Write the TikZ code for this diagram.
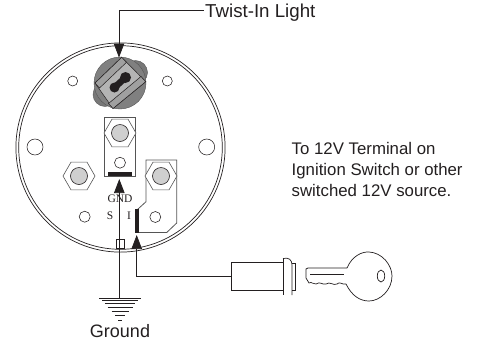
\documentclass[tikz,border=0pt]{standalone}
\usepackage{fontspec}
\setmainfont{Liberation Serif}
\newfontfamily\lab{Liberation Sans}
\usetikzlibrary{arrows.meta,shapes.geometric}
\definecolor{ink}{HTML}{231F20}
\definecolor{bolt}{HTML}{CFCFCF}
\definecolor{mid}{HTML}{808080}
\definecolor{lobe}{HTML}{787878}
\definecolor{plate}{HTML}{B4B4B4}
\definecolor{strip}{HTML}{A0A0A0}
\definecolor{soft}{HTML}{555555}
\tikzset{
 ln/.style={draw=ink,line width=.7pt},
 hole/.style={circle,draw=ink,line width=.55pt,fill=white,minimum size=11pt,inner sep=0pt},
 hexn/.style={regular polygon,regular polygon sides=6,draw=soft,line width=.6pt,fill=white,minimum size=32pt,inner sep=0pt},
 boltc/.style={circle,draw=ink,line width=.6pt,fill=bolt,minimum size=17pt,inner sep=0pt},
 txt/.style={font=\lab\fontsize{18}{20}\selectfont,text=ink,inner sep=0pt},
 ser/.style={font=\fontsize{11.5}{12}\selectfont,text=ink,inner sep=0pt},
 tip/.style={-{Triangle[length=14pt,width=10.5pt]}},
 platel/.style={draw=soft,line width=.8pt},
}
\begin{document}
\begin{tikzpicture}[x=1pt,y=-1pt]
\useasboundingbox (0,0) rectangle (478,341);
\coordinate (cc) at (120.5,147.5);
\draw[ln] (cc) circle (104.6);
\draw[ln] (cc) circle (101.8);
% small holes
\node[hole,minimum size=10pt] (h1) at (72.7,81) {};
\node[hole,minimum size=10pt] (h2) at (167.3,81) {};
\node[hole,minimum size=16pt] (h3) at (35,147) {};
\node[hole,minimum size=16pt] (h4) at (206.7,147) {};
\node[hole] (h5) at (84.7,216.7) {};
% twist-in light
\fill[lobe,draw=soft,line width=.4pt] (135.5,72.5) circle (12);
\fill[lobe,draw=soft,line width=.4pt] (105,94.5) circle (12);
\fill[mid,draw=soft,line width=.4pt] (120,83) circle (26);
\draw[ink,line width=.5pt,fill=plate] (95,83) -- (121.7,57.3) -- (145.7,81.7) -- (113,108.5) -- cycle;
\draw[ink,line width=.5pt,fill=strip] (95,83) -- (121.7,57.3) -- (126.5,62.3) -- (99.5,88) -- cycle;
\draw[ink,line width=.5pt,fill=strip] (108.5,103.5) -- (141,76.5) -- (145.7,81.7) -- (113,108.5) -- cycle;
\fill[ink] (114.5,87.5) circle (5);
\fill[ink] (125.5,77.5) circle (5.5);
\draw[ink,line width=6.5pt] (114.5,87.5) -- (125.5,77.5);
% GND plate
\draw[platel] (104.7,117.3) rectangle (135.3,176);
\node[hexn] (hx1) at (120,133) {};
\node[boltc] (b1) at (hx1) {};
\node[hole] (h6) at (120,162.7) {};
\fill[ink] (108,171.7) rectangle (131.7,176.3);
% left bolt
\node[hexn] (hx2) at (79,176) {};
\node[boltc] (b2) at (hx2) {};
% I plate
\draw[platel] (146,160) -- (176.7,160) -- (176.7,223) -- (166.7,232.5) -- (138,232.5) -- (138,209) -- (146,201.7) -- cycle;
\node[hexn] (hx3) at (161,176) {};
\node[boltc] (b3) at (hx3) {};
\node[hole] (h7) at (155.3,217) {};
\fill[ink] (134.7,209) rectangle (139,232.8);
% connectors
\node[txt,anchor=west,font=\lab\fontsize{18.7}{20}\selectfont] (tl) at (205,13) {Twist-In Light};
\coordinate (tw) at (203.5,10.7);
\draw[ln,tip] (tw) -- (119,10.7) -- (119,57.5);
\node[txt] (gt) at (120,331.5) {Ground};
\coordinate (g0) at (119.3,179);
\coordinate (g1) at (119.3,298);
\draw[ink,line width=.75pt] (g1) -- (119.3,190);
\draw[ink,line width=.75pt,tip] (119.3,194) -- (g0);
\draw[ink,line width=.5pt] (116.7,239) rectangle (124,248);
\foreach \y/\w in {298/20.7,300.5/18,303.5/15,307/12.5,311/8.5,315/5,320/2}
 \draw[ink,line width=.9pt] (120-\w,\y) -- (120+\w,\y);
% labels
\node[ser] (gnd) at (120,199) {GND};
\node[ser] (s) at (110,216) {S};
\node[ser] (i) at (129,216) {I};
% key switch wire
\node[draw=ink,line width=.7pt,minimum width=52pt,minimum height=28pt,inner sep=0pt] (sw) at (257,276) {};
\draw[ln,tip] (sw.west) -- (136.7,276) -- (136.7,235);
\draw[ln] (283,258.5) .. controls (289,257) and (292,260) .. (292,265) -- (292,295);
\draw[ln] (283,258.5) -- (283,295);
\draw[ln] (292,263) -- (295.3,263) -- (295.3,290) -- (292,290);
% key
\draw[ln] (347,268) -- (308,268) -- (306,269) -- (306,278) -- (309,283)
 .. controls (312,281) and (313,285) .. (316,284) .. controls (320,281) and (322,285) .. (326,284)
 .. controls (330,281) and (333,286) .. (337,284) .. controls (340,281) and (342,285) .. (346,284);
\draw[ln] (310,274) -- (344,274);
\draw[ln] (347,268) .. controls (352,256) and (362,251.5) .. (369,252) .. controls (382,252.5) and (392,265) .. (392,276)
 .. controls (392,290) and (380,301) .. (369,301) .. controls (360,301) and (352,296) .. (346,284);
\draw[ln] (381,276) ellipse (3.7 and 6);
% text
\node[txt,align=left,anchor=north west,font=\lab\fontsize{16.8}{21}\selectfont] (note) at (291.5,142.5) {To 12V Terminal on\\Ignition Switch or other\\switched 12V source.};
\end{tikzpicture}
\end{document}
